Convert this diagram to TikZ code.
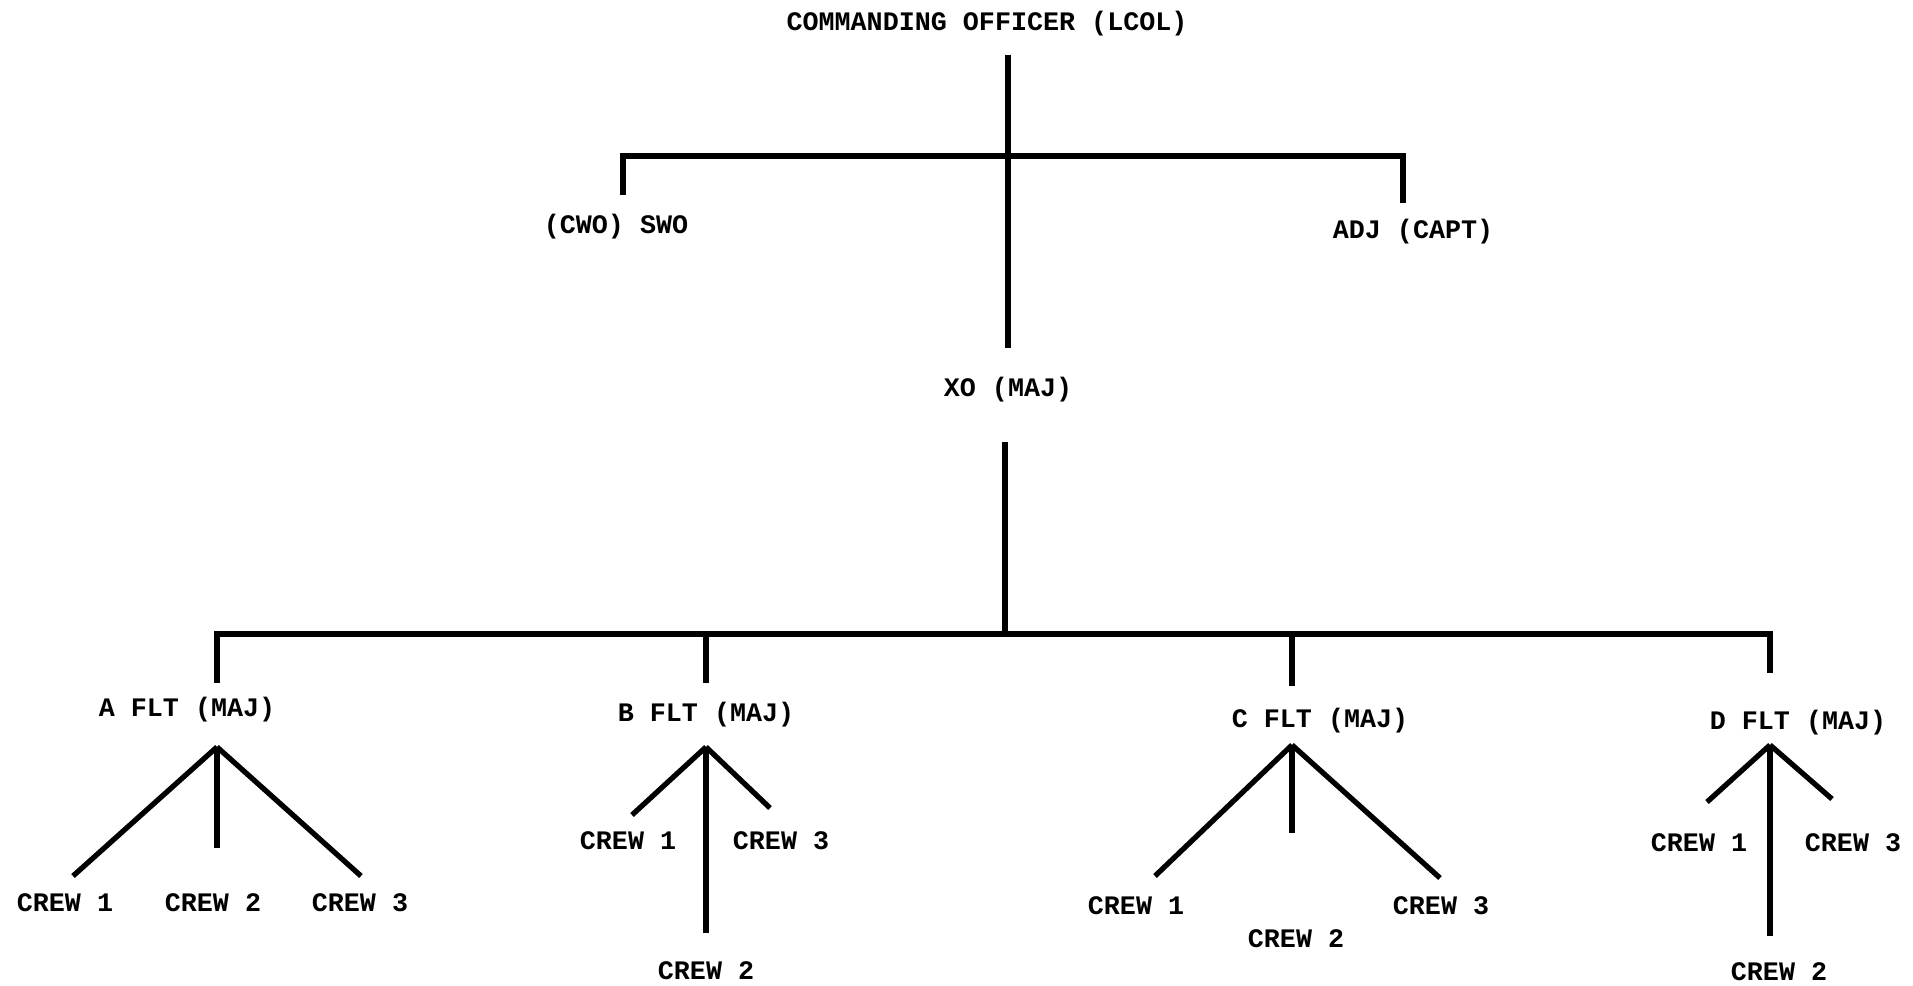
\documentclass[tikz,border=0pt]{standalone}
\usepackage{fontspec}
\setmonofont{Liberation Mono}
\begin{document}
\begin{tikzpicture}[x=0.01cm,y=-0.01cm,line width=1.5pt]
\tikzset{lbl/.style={font=\ttfamily\bfseries\fontsize{7.6}{9}\selectfont,inner sep=0pt}}
\useasboundingbox (0,0) rectangle (1913,985);
% headquarters
\node[lbl] (co) at (987,24) {COMMANDING OFFICER (LCOL)};
\node[lbl] (swo) at (616,227) {(CWO) SWO};
\node[lbl] (adj) at (1413,232) {ADJ (CAPT)};
\node[lbl] (xo) at (1008,390) {XO (MAJ)};
\coordinate (co-top) at (1008,55);
\coordinate (co-bot) at (1008,348);
\coordinate (swo-bar) at (623,156);
\coordinate (swo-end) at (623,195);
\coordinate (adj-bar) at (1403,156);
\coordinate (adj-end) at (1403,203);
\draw (co-top) -- (co-bot);
\draw (swo-end) -- (swo-bar) -- (adj-bar) -- (adj-end);
% flights
\node[lbl] (aflt) at (187,710) {A FLT (MAJ)};
\node[lbl] (bflt) at (706,715) {B FLT (MAJ)};
\node[lbl] (cflt) at (1320,721) {C FLT (MAJ)};
\node[lbl] (dflt) at (1798,723) {D FLT (MAJ)};
\coordinate (xo-top) at (1005,442);
\coordinate (xo-bar) at (1005,634);
\coordinate (a-bar) at (217,634);
\coordinate (b-bar) at (706,634);
\coordinate (c-bar) at (1292,634);
\coordinate (d-bar) at (1770,634);
\coordinate (a-end) at (217,683);
\coordinate (b-end) at (706,683);
\coordinate (c-end) at (1292,686);
\coordinate (d-end) at (1770,673);
\draw (xo-top) -- (xo-bar);
\draw (a-end) -- (a-bar) -- (d-bar) -- (d-end);
\draw (b-bar) -- (b-end);
\draw (c-bar) -- (c-end);
% A crews
\node[lbl] (a1) at (65,903) {CREW 1};
\node[lbl] (a2) at (213,903) {CREW 2};
\node[lbl] (a3) at (360,903) {CREW 3};
\coordinate (a-apex) at (217,747);
\draw (a-apex) -- (73,876);
\draw (a-apex) -- (217,848);
\draw (a-apex) -- (361,876);
% B crews
\node[lbl] (b1) at (628,841) {CREW 1};
\node[lbl] (b3) at (781,841) {CREW 3};
\node[lbl] (b2) at (706,971) {CREW 2};
\coordinate (b-apex) at (706,747);
\draw (b-apex) -- (632,815);
\draw (b-apex) -- (770,808);
\draw (b-apex) -- (706,933);
% C crews
\node[lbl] (c1) at (1136,906) {CREW 1};
\node[lbl] (c3) at (1441,906) {CREW 3};
\node[lbl] (c2) at (1296,939) {CREW 2};
\coordinate (c-apex) at (1292,745);
\draw (c-apex) -- (1155,876);
\draw (c-apex) -- (1440,878);
\draw (c-apex) -- (1292,833);
% D crews
\node[lbl] (d1) at (1699,843) {CREW 1};
\node[lbl] (d3) at (1853,843) {CREW 3};
\node[lbl] (d2) at (1779,972) {CREW 2};
\coordinate (d-apex) at (1770,745);
\draw (d-apex) -- (1707,802);
\draw (d-apex) -- (1832,799);
\draw (d-apex) -- (1770,936);
\end{tikzpicture}
\end{document}
